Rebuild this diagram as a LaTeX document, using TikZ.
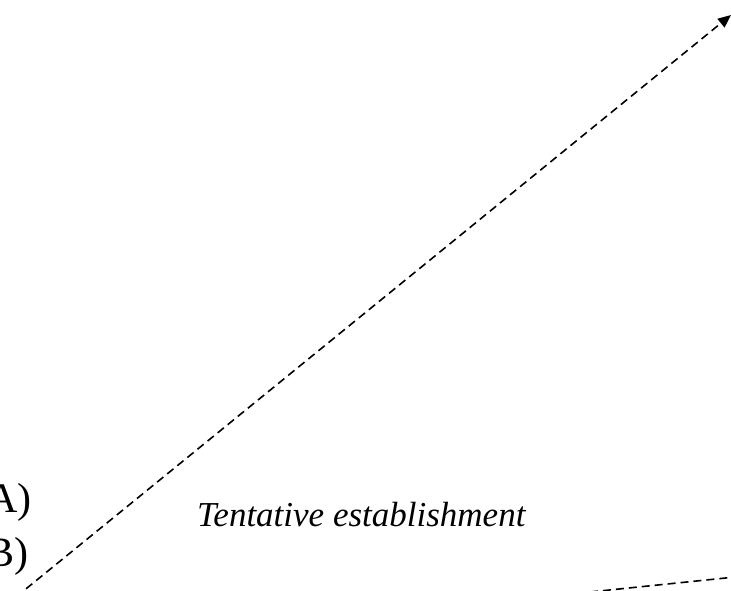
\documentclass[tikz,border=0pt]{standalone}
\usepackage{fontspec}
\setmainfont{Liberation Serif}
\usetikzlibrary{arrows.meta}
\begin{document}
\begin{tikzpicture}[x=1pt,y=1pt,
  dashline/.style={line width=1.6pt,dash pattern=on 8pt off 5pt},
  lbl/.style={inner sep=0pt,font=\fontsize{42}{48}\selectfont},
  ttl/.style={inner sep=0pt,font=\fontsize{35}{40}\selectfont\itshape}]
\useasboundingbox (0,0) rectangle (731,591);
\clip (0,0) rectangle (731,591);
\coordinate (s1) at (16,-6);
\coordinate (e1) at (731,576);
\coordinate (s2) at (590,-1);
\coordinate (e2) at (745,15);
\draw[dashline,-{Triangle[length=13pt,width=11pt]}] (s1) -- (e1);
\draw[dashline] (s2) -- (e2);
\node[lbl,anchor=base east] (A) at (32,78) {A)};
\node[lbl,anchor=base east] (B) at (29,24) {B)};
\node[ttl,anchor=base west] (T) at (197,64) {Tentative establishment};
\end{tikzpicture}
\end{document}
